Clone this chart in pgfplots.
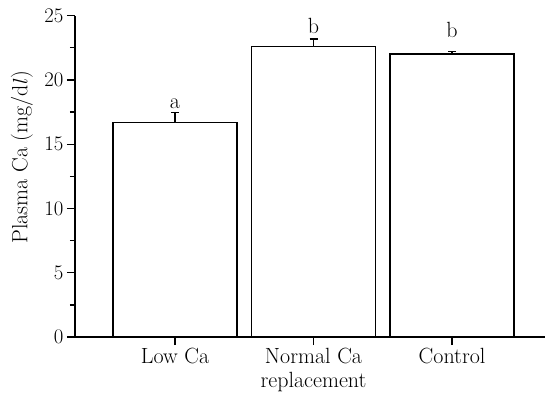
\documentclass[border=0pt]{standalone}
\usepackage{fontspec}
\usepackage{pgfplots}
\pgfplotsset{compat=1.18}
\begin{document}
\begin{tikzpicture}
\useasboundingbox (-75pt,-59pt) rectangle (470pt,337pt);
\begin{axis}[
  scale only axis,
  width=470pt, height=321.3pt,
  xmin=-0.722, xmax=2.671,
  ymin=0, ymax=25,
  axis x line=bottom, axis y line=left,
  axis line style={-, line width=1.4pt},
  tick align=outside,
  tick style={line width=1.3pt, black},
  major tick length=8pt, minor tick length=5pt,
  xtick={0,1,2},
  xticklabels={Low Ca, Normal Ca\\replacement, Control},
  xticklabel style={align=center, font=\fontsize{22}{24}\selectfont},
  ytick={0,5,10,15,20,25},
  minor y tick num=1,
  yticklabel style={font=\fontsize{21}{24}\selectfont},
  font=\fontsize{22}{24}\selectfont,
  ylabel={Plasma Ca (mg/d$l$)},
  ylabel style={at={(axis description cs:-0.113,0.56)}, anchor=center},
  ybar, bar width=0.895,
]
\addplot[draw=black, fill=white, line width=1.5pt,
  error bars/.cd, y dir=plus, y explicit,
  error bar style={line width=1.5pt},
  error mark options={line width=1.5pt, mark size=4pt, rotate=90}]
  coordinates {(0,16.7) +- (0,0.75) (1,22.62) +- (0,0.57) (2,22.03) +- (0,0.18)};
\node[anchor=base] at (axis cs:0,17.8) {a};
\node[anchor=base] at (axis cs:1,23.6) {b};
\node[anchor=base] at (axis cs:2,23.3) {b};
\end{axis}
\end{tikzpicture}
\end{document}
